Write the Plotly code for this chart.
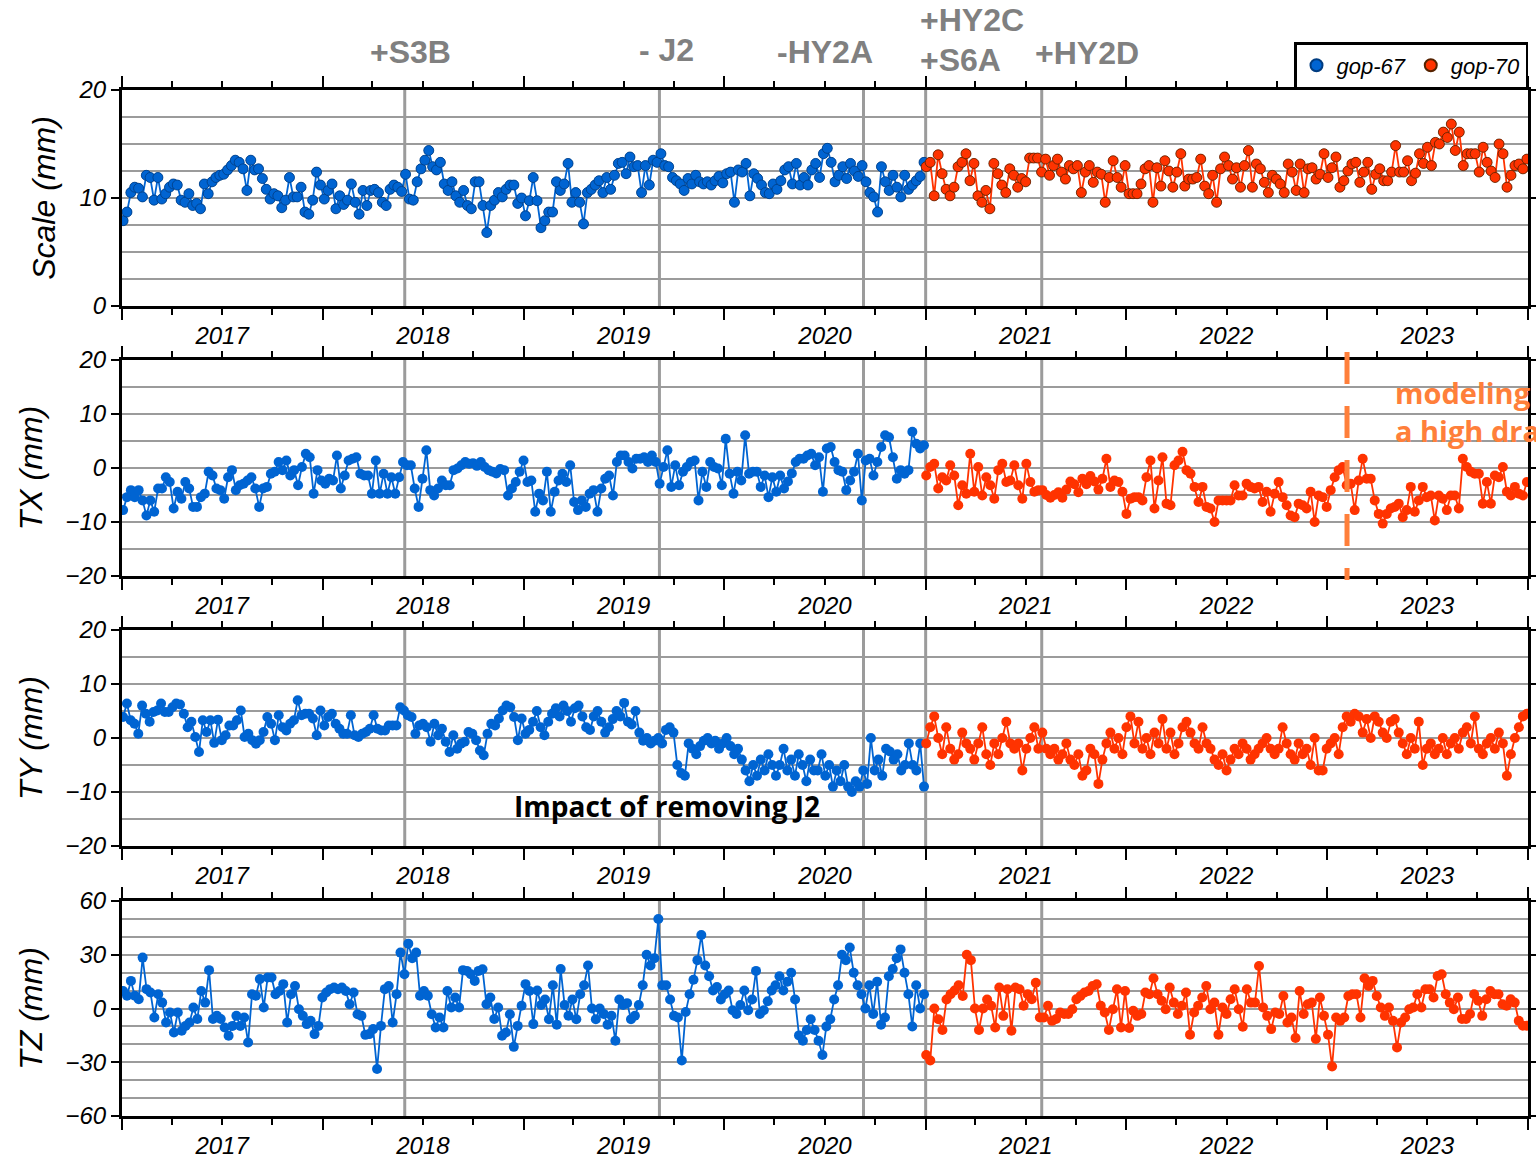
import pandas as pd
import plotly.graph_objects as go

# ---------------- data ----------------
scale_gop67 = [
    7.9, 8.7, 10.5, 11.0, 10.9, 10.1, 12.1, 11.9, 9.8, 11.9, 9.9, 10.4, 11.0, 11.3, 11.2, 9.8, 9.6, 10.4, 9.3, 9.5,
    9.0, 11.3, 10.4, 11.5, 11.9, 12.1, 12.2, 12.6, 13.0, 13.5, 13.3, 12.7, 10.7, 13.5, 12.6, 12.7, 11.8, 10.8, 9.9, 10.4,
    10.2, 9.1, 9.8, 11.9, 10.1, 10.1, 11.0, 8.7, 8.5, 9.8, 12.4, 11.2,
    9.9, 10.7, 11.3, 9.0, 10.2, 9.4, 9.8, 11.3, 9.6, 8.5, 10.7, 9.3, 10.7, 10.8, 10.5, 9.6, 9.3, 10.8, 11.2, 11.0,
    10.6, 12.2, 9.9, 9.8, 11.5, 12.7, 13.5, 14.4, 12.9, 12.6, 13.3, 11.3, 10.7, 11.5, 10.2, 9.6, 10.7, 9.3, 9.0, 11.5,
    11.5, 9.3, 6.8, 9.3, 9.8, 10.5, 10.1, 10.8, 11.2, 11.2, 9.5, 10.0,
    8.35, 9.75, 11.9, 9.75, 7.25, 7.9, 8.7, 8.7, 11.5, 10.7, 11.3, 13.2, 9.6, 10.5, 9.6, 7.6, 10.5, 10.8, 11.2, 11.6,
    10.5, 11.9, 10.8, 12.1, 13.2, 13.3, 12.25, 13.8, 12.9, 13.0, 10.5, 13.0, 11.2, 13.5, 13.3, 14.1, 13.0, 12.9, 11.9, 11.6,
    11.3, 10.7, 11.8, 11.3, 12.1, 11.5, 11.3, 11.5, 11.2, 11.6, 12.0, 11.4,
    12.25, 12.4, 9.6, 12.6, 12.4, 13.2, 10.2, 12.25, 11.8, 11.2, 10.5, 10.4, 11.3, 10.8, 11.6, 12.6, 12.9, 11.3, 13.2, 11.2,
    11.9, 11.2, 12.6, 13.2, 11.9, 14.1, 14.6, 13.3, 11.5, 12.1, 12.9, 11.8, 13.2, 12.5, 12.0, 13.0,
    11.5, 10.5, 10.1, 8.7, 12.9, 11.5, 10.7, 12.1, 11.0, 10.1, 12.1, 10.8, 11.2, 11.6, 12.0, 13.3,
]
scale_gop70 = [
    12.9, 13.3, 10.2, 14.0, 12.25, 10.8, 10.2, 11.0, 12.9, 13.3, 14.1, 11.6, 13.2, 10.2, 9.6, 10.7, 9.0, 13.2, 12.25, 11.2,
    10.5, 12.7, 12.1, 11.0, 11.8, 11.5, 13.7, 13.7, 13.7, 12.4,
    13.6, 12.1, 13.0, 13.6, 12.4, 11.75, 13.0, 12.7, 13.0, 10.5, 12.4, 13.0, 11.45,
    12.4, 12.2, 9.6, 11.9, 13.45, 11.9, 11.0, 13.0, 10.4, 10.4, 10.4, 11.3, 12.7, 13.0, 9.6, 12.8, 11.1, 13.45, 12.5, 11.0,
    12.4, 14.1, 11.1, 11.75, 11.75, 11.9, 13.6, 11.1, 10.4, 12.1, 9.6, 12.7, 13.8, 13.0, 11.75, 12.8, 11.0, 13.0, 14.4, 11.0,
    13.15, 12.7, 11.45, 10.5, 12.1, 11.75, 11.3, 10.5, 13.15, 12.4, 10.7, 13.15, 10.5, 12.7, 12.8, 11.75, 12.2, 14.1, 11.9, 12.8,
    13.8, 11.0, 11.6, 12.5, 13.15, 13.3, 11.45, 12.4, 13.3, 10.8, 12.2, 12.7, 11.6, 11.6, 12.4, 14.85, 12.4, 12.4, 13.45, 11.6,
    12.3, 14.1, 13.2, 14.7, 13.0, 15.15, 15.0, 16.1, 15.6, 16.85, 14.4, 16.1, 13.0, 14.1, 14.1, 14.1, 12.4, 14.7, 13.3, 12.5,
    11.9, 15.0, 14.1, 11.0, 12.1, 13.0, 13.15, 12.7, 13.6,
]
tx_gop67 = [
    -7.8, -5.4, -4.1, -5.4, -4.1, -6.0, -8.8, -6.0, -8.1, -3.8, -3.8, -1.7, -2.6, -7.5, -4.4, -5.7, -2.6, -3.8, -7.2, -7.2,
    -5.4, -4.75, -0.7, -1.4, -3.8, -4.1, -5.7, -1.7, -0.4, -4.1, -3.2, -2.9, -2.3, -1.7, -3.8, -7.2, -3.8, -3.5, -1.05, -0.7,
    1.1, -0.4, 1.4, -1.4, -0.4, -3.2, 0.2, 2.65, 2.0, -4.75, -0.4, -2.3,
    -2.9, -2.0, -2.3, 2.3, -3.8, -1.4, 1.4, 1.7, 2.0, -1.05, -1.4, -1.4, -4.75, 1.4, -4.75, -1.05, -4.75, -1.7, -4.75, -1.7,
    1.1, 0.5, 0.5, -3.8, -7.2, -2.0, 3.3, -4.1, -5.1, -3.8, -2.3, -3.2, -3.2, -0.4, -0.1, 0.5, 1.1, 0.8, 0.9, 0.4,
    1.1, 0.2, -0.4, -0.7, -1.0, -0.2, -0.4, -5.1, -3.8, -2.6, -0.7, 1.4,
    -2.6, -2.3, -8.1, -4.75, -6.0, -0.7, -8.1, -4.4, -2.3, -1.05, -2.6, 0.5, -6.3, -7.8, -6.0, -7.2, -4.75, -4.1, -8.1, -3.8,
    -2.0, -1.4, -5.1, 1.1, 2.3, 2.3, 1.1, -0.1, 1.7, 1.7, 2.0, 1.1, 2.3, 1.1, -2.9, 0.2, 3.3, -3.5, 0.5, -3.2,
    -0.7, 0.2, 1.1, 1.4, -6.0, -0.7, -3.5, 1.1, 0.2, -0.1, -3.2,
    5.4, -1.05, -4.75, -0.7, -2.3, 6.05, -1.05, -0.7, -0.7, -3.5, -1.4, -5.4, -1.7, -4.4, -1.4, -3.8, -2.5, -1.0, 1.1, 1.7,
    1.7, 2.3, 2.65, 0.5, 2.0, -4.4, 3.6, 3.9, 1.1, -0.4, -0.7, -4.1, -2.3, -0.7, 2.65, -6.0, 1.4, 1.7, -1.4, 1.1,
    3.9, 6.05, 5.7, 2.0, -2.0, -0.4, -1.05, -0.4, 6.7, 4.5, 3.6, 4.2,
]
tx_gop70 = [
    -1.4, 0.2, 0.8, -3.8, -1.7, -2.3, 0.5, -1.4, -6.9, -3.2, -4.75, 2.65, -4.4, 0.2, -5.1, -1.7, -3.2, -5.7, -0.4, 0.8,
    -2.6, -2.3, 0.5, -3.2, -5.7, 0.8, -2.6, -4.4, -4.1, -4.1,
    -5.0, -5.5, -5.0, -4.5, -5.5, -4.0, -2.5, -3.0, -4.5, -2.0, -3.0, -1.5, -2.5, -4.0,
    -2.0, 1.7, -3.5, -2.3, -2.6, -4.4, -8.5, -5.7, -5.4, -5.4, -6.0, -1.7, 1.4, -7.5, -2.3, 2.0, -6.6, -6.9, 0.5, 1.4,
    3.0, -0.4, -1.05, -3.5, -6.3, -3.5, -7.2, -7.5, -10.0, -6.0, -6.0, -6.0, -6.0, -3.2, -5.1, -5.1, -2.9, -3.5, -3.8, -3.5,
    -6.3, -4.4, -8.1, -4.75, -2.6, -5.4, -6.9, -8.8, -9.1, -6.6, -6.9, -7.5, -4.4, -10.0, -5.1, -5.4, -7.2, -4.1, -1.7, -0.4,
    0.2, -3.2, -2.9, -7.8, -2.3, 1.7, -2.0, -2.0, -6.0, -8.5, -10.3, -8.5, -7.5, -7.2, -6.6, -9.1, -7.8, -3.5, -8.1, -6.0,
    -3.5, -5.4, -5.1, -9.7, -5.1, -5.7, -7.8, -5.1, -5.1, -7.5, 1.7, 0.2, -0.7, -1.05, -1.05, -6.6, -2.6, -6.6, -1.4, -1.7,
    0.2, -4.4, -5.1, -3.5, -4.75, -5.1, -2.6,
]
ty_gop67 = [
    3.9, 6.4, 3.3, 2.65, 0.8, 6.0, 4.5, 3.0, 4.8, 5.1, 6.4, 4.8, 4.8, 5.7, 6.4, 6.2, 4.5, 2.0, 3.0, 0.2,
    -2.6, 3.3, 1.1, 3.3, -0.9, 3.4, -0.4, 0.5, 2.3, 2.3, 3.3, 5.1, 0.2, 0.8, -0.4, -1.05, -0.4, 1.1, 3.9, 2.65,
    -0.4, 4.2, 2.0, 1.4, 2.65, 3.3, 7.0, 4.2, 4.5, 4.5, 3.6, 0.5, 5.1,
    2.3, 3.9, 4.5, 2.65, 1.7, 0.8, 0.8, 4.2, 0.5, 0.2, 0.8, 1.1, 1.7, 4.2, 1.7, 1.4, 1.4, 2.3, 2.3, 2.3,
    5.7, 5.1, 4.2, 3.9, 0.8, 2.3, 2.65, 2.0, -0.7, 2.65, 0.5, 1.7, -0.7, -2.6, 0.5, -2.0, -1.05, -0.7, 1.1, 0.8,
    -0.4, -2.3, -3.2, 0.8, 2.65, 2.3, 3.6, 5.1, 6.0, 5.7, 3.9, -0.4, 3.6, 0.8,
    1.5, 3, 5, 2, 0.5, 3, 4.5, 5.5, 4, 6, 5, 3, 5.5, 6, 4, 2, 1.5, 4, 5, 3,
    1, 2, 3.5, 5, 4, 6.5, 3, 2.5, 5, 1, -0.5, 0, -1, -0.5, 0, -1, 1.5, 2, 1, -5,
    -6.5, -7, -1, -2, -3, -1.5, -0.5, 0, -1, -0.5, -2, -1, 0, -1.5, -3, -2,
    -4, -6, -8, -5, -7, -4, -6, -3, -5, -7, -5, -2, -6, -4, -7, -3, -5, -8, -4, -6,
    -6, -3, -7, -5, -9, -6, -8, -5, -9, -10, -8, -9, -6, -8.5, 0, -6, -4, -7, -2, -2.5,
    -4, -3, -6, -5, -1, -5, -6, -1, -9,
]
ty_gop70 = [
    -1, 2, 4, 0, -3, 2, -2, -4, -3, 1, -1, -2, -4, -1, 2, -3, -5, -1, -3, 0,
    3, -1, -2, -1, -6, -2, 0, 2, -2, 1,
    -2, -3, -2, -4, -3, -1, -4, -5, -3, -7, -6, -2, -3, -8.5, -4, -1, 1, -2, 0, -3, 2, 4,
    -1, 3, -2, 0, -3, 1, -1, 3.5, -2, 1, -3, -1, 2, 3, 1, -1, -2, 2, -1, -2,
    -4, -5, -3, -6, -4, -2, -3, -1, -2, -4, -3, -2, -1, 0, -2, -3, -2, 2, -1, -3,
    -4, -1, -3, -2, -5, 0, -6, -6, -2, -1, 0, -3,
    2, 4, 3, 4.5, 4, 1, 3.5, 0, 4, 3, 1, 0, 3, 3.5, 1, -1, -3, 0, -2, 3,
    -5, -2, -1, -3, -2, 0, -3, -1, 0, -2, 1, 2, -1, 4, -2, -3, -1, 0, -2, 1,
    -1, -7, -3, 0, 2, 4, 4.5,
]
tz_gop67 = [
    9.8, 7.1, 15.4, 7.1, 5.2, 28.4, 10.8, 8.9, -5.0, 8.0, 3.3, -7.8, -2.2, -13.4, -2.2, -12.4, -9.7, -7.8, 0.6, -5.9,
    9.8, 3.3, 21.4, -5.9, -4.1, -5.9, -10.6, -15.2, -9.7, -4.1, -9.7, -5.0, -19.0, 8.0, 7.1, 16.4, 0.6, 17.3, 17.3, 8.0,
    9.8, 13.6, -7.8, 8.0, 12.6, -0.4, -4.1, -8.7, -6.9, -14.3, -9.7, 6.1, 8.9,
    10.8, 11.7, 10.8, 11.7, 9.8, 2.4, 8.9, -3.2, -4.1, -14.7, -14.3, -11.5, -33.8, -9.7, 10.8, 12.6, -7.8, 8.0, 31.2, 19.1,
    36.2, 28.1, 31.2, 7.1,
    9.8, 7.1, -3.2, -10.6, -5.0, -10.6, 9.8, 0.6, 6.1, 0.6, 21.4, 21.0, 19.1, 15.4, 21.0, 21.9, 2.4, 6.1, -5.9, 0.6,
    -15.2, -13.4, -3.2, -21.4, -9.7, 1.5, 13.6, 9.8, -8.7,
    10, 2, 5, -6, 13, -9, 22, 2, -4, 5, -6, 8, 13, 24, 0, -6, 0, -3, -9, -4,
    -18, 5, 2, 3, -6, -4, 2, 13, 30, 24, 28, 50, 13,
    13, 5, -4, -5, -29, -2, 8, 16, 27, 41, 24, 18, 10, 12, 5, 8, 10,
    -1, -3, 2, 10, -1, 5, 21, -3, -1, 4, 10, 13, 18, 10, 15, 20, 5, -15, -18, -12,
    -6, -12, -18, -26, -10, -6, 5, 13, 30, 27, 34, 20, 13, 8, 0, 13,
    -3, 15, -9, -5, 18, 22, 28, 33, 20, 8, -10, 13, 0, 8,
]
tz_gop70 = [
    -26, -29, 0, -6, -12, 5, 8, 10, 13, 7, 30, 27, 0, -12, 0, 5,
    1.5, -10.6, 11.7, -4.1, 10.7, -12.4, 11.7, 10.7, 1.5, 8.0, 5.2, 14.4, -5.0, -5.0, 1.5, -6.9, -5.9, -2.2, -3.1, -3.1,
    -0.4, 5.2, 7.0, 8.9, 9.8, 12.6, 13.5, 1.5, -2.2, -12.0, -0.4, 10.7, -10.6, 9.8, -10.9, -1.3, -4.1, -3.1, 8.9, 8.0,
    16.9, 8.0, 4.3, -0.4, 11.7, 3.3, -3.1, 1.5, 8.9, -14.6, -2.2, 1.5, 6.1, 12.6, -0.4, 3.3, -14.6, 0.6, -3.1, 5.2,
    10.7, -0.4, -10.2, 10.7, 3.3, 3.3, 23.7, 0.6, -4.1, -11.5, -2.2, -3.1, 7.0, -7.8, -5.0, -16.5, 9.8, -3.1, 2.4, 3.3,
    -17.0, 6.1, -4.1, -14.6, -32.4, -5.0, -6.9, -5.0, 7.0, 8.0, 8.0, -5.0, 16.9, 12.6, 15.4, 7.0, 0.6, -4.1, 0.6, -6.9,
    -21.7, -7.8, -5.0, -0.4, 0.6, 8.0, 0.6, 10.7, 10.7, 6.1, 18.1, 19.1, 8.0, 3.3, -0.4, 6.1, -5.9, -5.9, -3.1, 8.0,
    4.3, -4.1, 5.2, 9.8, 8.0, 8.0, 2.4, 1.5, 5.2, 3.3, -6.9, -9.6, -9.6,
]

gop67_span = ("2017-01-03", "2020-12-29")
gop70_span = ("2021-01-02", "2023-12-30")

event_dates = ["2018-05-30", "2019-09-05", "2020-09-10", "2021-01-01", "2021-07-31"]
drag_date = "2023-02-06"

panels = [
    ("Scale (mm)", scale_gop67, scale_gop70, [0, 20], [0, 10, 20], 2.5),
    ("TX (mm)", tx_gop67, tx_gop70, [-20, 20], [-20, -10, 0, 10, 20], 5),
    ("TY (mm)", ty_gop67, ty_gop70, [-20, 20], [-20, -10, 0, 10, 20], 5),
    ("TZ (mm)", tz_gop67, tz_gop70, [-60, 60], [-60, -30, 0, 30, 60], 10),
]

# ---------------- layout geometry ----------------
W, H = 1536, 1160
L, R = 122, 1528
panel_px = [(90, 306), (360, 576), (630, 846), (901, 1116)]

BLUE = "#0064D2"
RED = "#FF3300"
GRAY = "#9B9B9B"
ORANGE = "#FF7F3A"
FONT = "Liberation Sans"


def px_x(p):
    return (p - L) / (R - L)


def px_y(p):
    return 1 - p / H


fig = go.Figure()

years = list(range(2017, 2025))
year_bounds = [f"{y}-01-01" for y in years]
q_vals, q_text = [], []
for y in years[:-1]:
    for md, lab in (("04-01", ""), ("07-02", str(y)), ("10-01", "")):
        q_vals.append(f"{y}-{md}")
        q_text.append(lab)

for i, (title, s67, s70, rng, yticks, minor) in enumerate(panels):
    n = "" if i == 0 else str(i + 1)
    xa, ya = "x" + n, "y" + n
    t67 = pd.date_range(gop67_span[0], gop67_span[1], periods=len(s67))
    t70 = pd.date_range(gop70_span[0], gop70_span[1], periods=len(s70))
    for t, s, c, name in ((t67, s67, BLUE, "gop-67"), (t70, s70, RED, "gop-70")):
        fig.add_trace(go.Scatter(
            x=t, y=s, mode="lines+markers", xaxis=xa, yaxis=ya,
            line=dict(color=c, width=1.8), marker=dict(color=c, size=10),
            showlegend=False, name=name))
        if i == 0:
            fig.add_trace(go.Scatter(
                x=t, y=s, mode="markers", xaxis=xa, yaxis=ya,
                marker=dict(color=c, size=10,
                            line=dict(color="#552200" if c == RED else "#003c80", width=0.8)),
                showlegend=True, name=name))

    top, bot = panel_px[i]
    fig.layout["xaxis" + n] = dict(
        domain=[0, 1], anchor=ya, range=["2017-01-01", "2024-01-01"], type="date",
        tickmode="array", tickvals=q_vals, ticktext=q_text,
        ticks="outside", ticklen=6, tickwidth=1.5, tickcolor="black",
        minor=dict(tickmode="array", tickvals=year_bounds, ticks="outside",
                   ticklen=11, tickwidth=1.5, tickcolor="black", showgrid=False),
        showline=True, linecolor="black", linewidth=3, mirror="allticks",
        showgrid=False, zeroline=False, automargin=False,
        tickfont=dict(family=FONT, size=24, color="black", style="italic"),
        fixedrange=True,
    )
    fig.layout["yaxis" + n] = dict(
        domain=[px_y(bot), px_y(top)], anchor=xa, range=rng,
        tickmode="array", tickvals=yticks,
        ticks="outside", ticklen=8, tickwidth=1.5, tickcolor="black",
        showline=True, linecolor="black", linewidth=3, mirror="allticks",
        showgrid=True, gridcolor=GRAY, gridwidth=1.5,
        minor=dict(dtick=minor, tick0=0, showgrid=True, gridcolor=GRAY, gridwidth=1.5, ticks=""),
        zeroline=False, automargin=False,
        tickfont=dict(family=FONT, size=24, color="black", style="italic"),
        title=dict(text=title, font=dict(family=FONT, size=32, color="black", style="italic"), standoff=14),
        fixedrange=True,
    )
    for d in event_dates:
        fig.add_shape(type="line", xref=xa, yref=ya + " domain", x0=d, x1=d, y0=0, y1=1,
                      line=dict(color=GRAY, width=3), layer="below")

# orange dashed marker (TX panel), drawn from the top down
fig.add_shape(type="line", xref="x2", yref="y2 domain", x0=drag_date, x1=drag_date,
              y0=1.037, y1=-0.019,
              line=dict(color=ORANGE, width=5, dash="32px,22px"), layer="above")

# event annotations at top
ann_style = dict(family=FONT, size=32, color="#808080")
top_labels = [
    ("+S3B", 410, 52), ("- J2", 666, 50), ("-HY2A", 825, 52),
    ("+HY2C", 972, 20), ("+S6A", 960, 60), ("+HY2D", 1087, 53),
]
for txt, x, y in top_labels:
    fig.add_annotation(text="<b>%s</b>" % txt, xref="paper", yref="paper",
                       x=px_x(x), y=px_y(y), showarrow=False,
                       xanchor="center", yanchor="middle", font=ann_style)

fig.add_annotation(text="<b>modeling<br>a high drag</b>", xref="paper", yref="paper",
                   x=px_x(1393), y=px_y(412), showarrow=False, xanchor="left", yanchor="middle",
                   align="left", font=dict(family="Open Sans", size=29, color=ORANGE))
fig.add_annotation(text="<b>Impact of removing J2</b>", xref="paper", yref="paper",
                   x=px_x(667), y=px_y(806), showarrow=False, xanchor="center", yanchor="middle",
                   font=dict(family="Open Sans", size=28, color="black"))

fig.update_layout(
    width=W, height=H,
    margin=dict(l=L, r=W - R, t=0, b=0, autoexpand=False),
    paper_bgcolor="white", plot_bgcolor="white",
    legend=dict(orientation="h", x=1, xanchor="right", y=px_y(89), yanchor="bottom",
                bordercolor="black", borderwidth=2.5, bgcolor="white",
                font=dict(family=FONT, size=22, color="black", style="italic"),
                itemsizing="constant", itemwidth=30, tracegroupgap=0),
    showlegend=True,
)

fig.write_html("out.html", config={"displayModeBar": False},
               post_script="document.body.style.margin='0px';")
